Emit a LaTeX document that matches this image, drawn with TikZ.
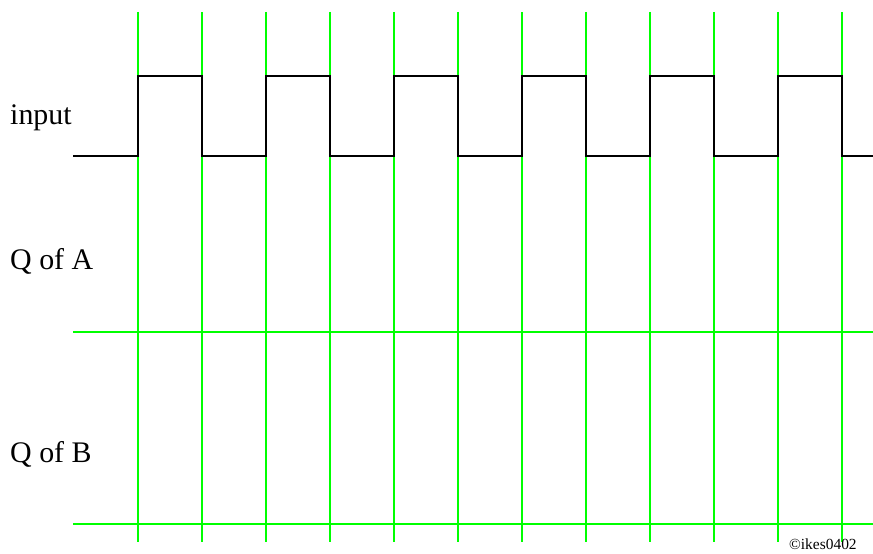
\documentclass[tikz,border=0pt]{standalone}
\usepackage{fontspec}
\setmainfont{Liberation Serif}
\definecolor{gridgreen}{RGB}{0,255,0}
\tikzset{
  gridline/.style={gridgreen,line width=2.6bp},
  wave/.style={black,line width=2.5bp,line join=miter},
  lbl/.style={anchor=base west,inner sep=0,font=\fontsize{30}{36}\selectfont}
}
\begin{document}
\begin{tikzpicture}[x=1bp,y=-1bp]
\useasboundingbox (0,0) rectangle (873,554);
\coordinate (O) at (73,156);
% clock grid
\foreach \x in {138,202,...,842} {
 \draw[gridline] (\x,12) --++(0,530);
}
\foreach \y in {332,524} {
 \draw[gridline] (73,\y) --++(800,0);
}
% input pulses
\draw[wave] (O) \foreach \x in {138,266,...,778} { -- (\x,156) -- (\x,76) --++(64,0) --++(0,80)} -- (873,156);
\node[lbl] (input) at (10,125) {input};
\node[lbl] (qa) at (10,270) {Q of A};
\node[lbl] (qb) at (10,462) {Q of B};
\node[anchor=base west,inner sep=0,font=\fontsize{15.5}{18}\selectfont] (copy) at (789,549) {©ikes0402};
\end{tikzpicture}
\end{document}
